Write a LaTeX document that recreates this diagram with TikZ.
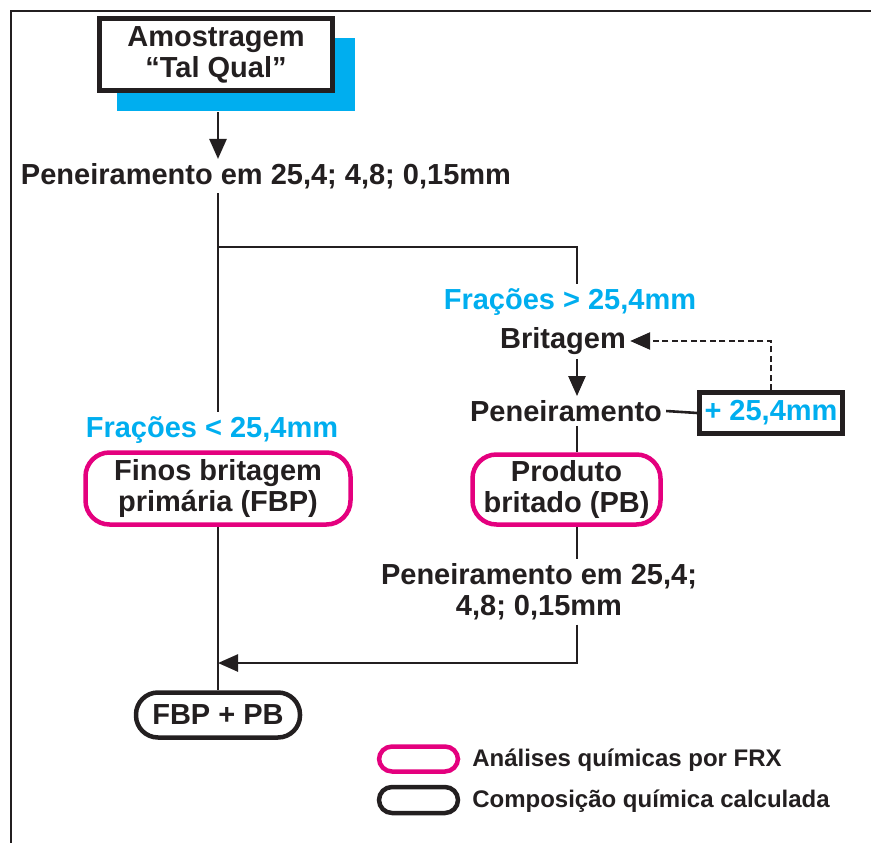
\documentclass[tikz,border=0pt]{standalone}
\usepackage{fontspec}
\setmainfont{Liberation Sans}
\usetikzlibrary{arrows.meta}
\definecolor{ciano}{RGB}{0,174,239}
\definecolor{rosa}{RGB}{228,0,126}
\definecolor{preto}{RGB}{35,31,32}
\begin{document}
\begin{tikzpicture}[x=1pt, y=-1pt, line width=2.6pt, draw=preto,
    font=\fontsize{29}{31}\selectfont\bfseries, text=preto,
    every node/.style={inner sep=3pt, align=center},
    seta/.style={-{Triangle[length=20pt,width=17pt]}},
    caixa/.style={draw=preto, line width=4.5pt, fill=white},
    analise/.style={draw=rosa, line width=4.5pt, rounded corners=24pt},
    calculo/.style={draw=preto, line width=4.5pt, rounded corners=22pt},
    fracao/.style={text=ciano},
    legenda/.style={font=\fontsize{24}{26}\selectfont\bfseries, anchor=west}] % estilos das caixas
\useasboundingbox (0,0) rectangle (871,843);
\draw[line width=2pt] (11,843) |- (871,11);
\node[fill=ciano, minimum width=238, minimum height=73, inner sep=0] (sombra) at (236,74.5) {};
\node[caixa, minimum width=233, minimum height=72] (amostra) at (216,54.5) {Amostragem\\“Tal Qual”};
\node (pen1) at (266,176) {Peneiramento em 25,4; 4,8; 0,15mm};
\node[fracao] (maior) at (570,302) {Frações > 25,4mm};
\node (brit) at (563,341) {Britagem};
\node (pen2) at (566,411) {Peneiramento};
\node[caixa, minimum width=143, minimum height=41, text=ciano, inner sep=1pt] (mais) at (771,413) {+ 25,4mm};
\node[fracao] (menor) at (212,430) {Frações < 25,4mm};
\node[analise, minimum width=265, minimum height=72] (fbp) at (218,488.5) {Finos britagem\\primária (FBP)};
\node[analise, minimum width=188, minimum height=70] (pb) at (566.5,489.5) {Produto\\britado (PB)};
\node (pen3) at (539,592) {Peneiramento em 25,4;\\4,8; 0,15mm};
\node[calculo, minimum width=164, minimum height=45] (soma) at (218,715) {FBP + PB};
\coordinate (eixo) at (577,247);
\coordinate (juncao) at (218,663);
\draw[seta] (sombra.south -| soma) -- (pen1.north -| soma);
\draw (pen1.south -| soma) -- (menor.north -| soma);
\draw (soma |- eixo) -- (eixo) -- (eixo |- maior.north);
\draw[seta] (eixo |- brit.south) -- (eixo |- pen2.north);
\draw (pen2.east) -- (mais.west);
\draw[seta, line width=2.4pt, dash pattern=on 6pt off 3.5pt] (mais.north) |- (brit.east);
\draw (eixo |- pen2.south) -- (eixo |- pb.north);
\draw (eixo |- pb.south) -- (eixo |- pen3.north);
\draw[seta] (eixo |- pen3.south) |- (juncao);
\draw (fbp.south) -- (soma.north);
% legenda
\node[analise, rounded corners=13pt, minimum width=79, minimum height=25] (leg1) at (418.5,759) {};
\node[calculo, rounded corners=13pt, minimum width=79, minimum height=26] (leg2) at (418.5,800) {};
\node[legenda] (txt1) at (468,760) {Análises químicas por FRX};
\node[legenda] (txt2) at (468,801) {Composição química calculada};
\end{tikzpicture}
\end{document}
